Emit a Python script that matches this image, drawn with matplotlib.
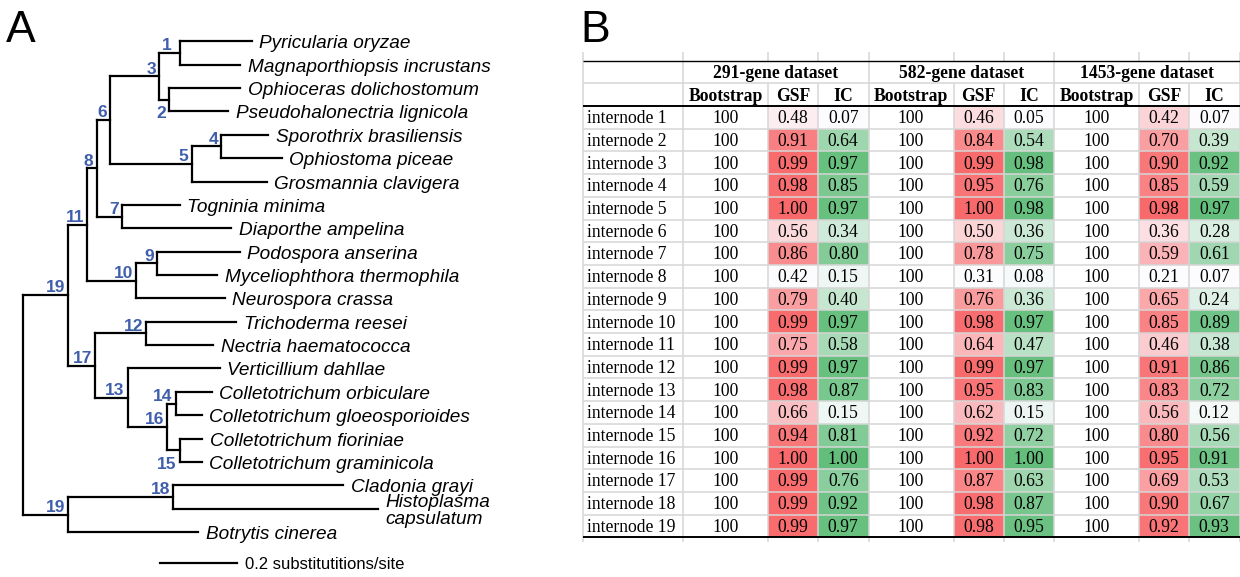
import matplotlib
matplotlib.use("Agg")
import matplotlib.pyplot as plt
from matplotlib.patches import Rectangle
import numpy as np

plt.rcParams['font.family'] = ['Liberation Sans', 'DejaVu Sans']

# ---------------- Panel A: tree (branch lengths, substitutions/site) ----------------
tip_names = ["Pyricularia oryzae", "Magnaporthiopsis incrustans", "Ophioceras dolichostomum",
             "Pseudohalonectria lignicola", "Sporothrix brasiliensis", "Ophiostoma piceae",
             "Grosmannia clavigera", "Togninia minima", "Diaporthe ampelina", "Podospora anserina",
             "Myceliophthora thermophila", "Neurospora crassa", "Trichoderma reesei",
             "Nectria haematococca", "Verticillium dahllae", "Colletotrichum orbiculare",
             "Colletotrichum gloeosporioides", "Colletotrichum fioriniae",
             "Colletotrichum graminicola", "Cladonia grayi", "Histoplasma\ncapsulatum",
             "Botrytis cinerea"]
tip_parents = ["1", "1", "2", "2", "4", "4", "5", "7", "7", "9", "9", "10", "12", "12", "13",
               "14", "14", "15", "15", "18", "18", "19b"]
tip_lengths = [0.187, 0.157, 0.185, 0.154, 0.122, 0.157, 0.196, 0.152, 0.287, 0.216, 0.157,
               0.231, 0.235, 0.174, 0.241, 0.094, 0.068, 0.059, 0.057, 0.444, 0.534, 0.340]

node_ids = ["1", "2", "3", "4", "5", "6", "7", "8", "9", "10", "11", "12", "13", "14", "15",
            "16", "17", "18", "19a", "19b", "root"]
node_labels = ["1", "2", "3", "4", "5", "6", "7", "8", "9", "10", "11", "12", "13", "14", "15",
               "16", "17", "18", "19", "19", ""]
node_parents = ["3", "3", "6", "5", "6", "8", "8", "11", "10", "11", "19a", "17", "17", "16",
                "16", "13", "19a", "19b", "root", "root", None]
node_lengths = [0.055, 0.027, 0.128, 0.078, 0.213, 0.035, 0.065, 0.025, 0.054, 0.129, 0.050,
                0.133, 0.084, 0.022, 0.033, 0.103, 0.072, 0.275, 0.118, 0.118, 0.0]
scale_bar_length = 0.2
scale_bar_label = "0.2 substitutitions/site"

# ---------------- Panel B: table ----------------
datasets = ["291-gene dataset", "582-gene dataset", "1453-gene dataset"]
metrics = ["Bootstrap", "GSF", "IC"]
internodes = ["internode 1", "internode 2", "internode 3", "internode 4", "internode 5",
              "internode 6", "internode 7", "internode 8", "internode 9", "internode 10",
              "internode 11", "internode 12", "internode 13", "internode 14", "internode 15",
              "internode 16", "internode 17", "internode 18", "internode 19"]
bootstrap_291 = [100, 100, 100, 100, 100, 100, 100, 100, 100, 100, 100, 100, 100, 100, 100, 100, 100, 100, 100]
gsf_291 = [0.48, 0.91, 0.99, 0.98, 1.00, 0.56, 0.86, 0.42, 0.79, 0.99, 0.75, 0.99, 0.98, 0.66, 0.94, 1.00, 0.99, 0.99, 0.99]
ic_291 = [0.07, 0.64, 0.97, 0.85, 0.97, 0.34, 0.80, 0.15, 0.40, 0.97, 0.58, 0.97, 0.87, 0.15, 0.81, 1.00, 0.76, 0.92, 0.97]
bootstrap_582 = [100, 100, 100, 100, 100, 100, 100, 100, 100, 100, 100, 100, 100, 100, 100, 100, 100, 100, 100]
gsf_582 = [0.46, 0.84, 0.99, 0.95, 1.00, 0.50, 0.78, 0.31, 0.76, 0.98, 0.64, 0.99, 0.95, 0.62, 0.92, 1.00, 0.87, 0.98, 0.98]
ic_582 = [0.05, 0.54, 0.98, 0.76, 0.98, 0.36, 0.75, 0.08, 0.36, 0.97, 0.47, 0.97, 0.83, 0.15, 0.72, 1.00, 0.63, 0.87, 0.95]
bootstrap_1453 = [100, 100, 100, 100, 100, 100, 100, 100, 100, 100, 100, 100, 100, 100, 100, 100, 100, 100, 100]
gsf_1453 = [0.42, 0.70, 0.90, 0.85, 0.98, 0.36, 0.59, 0.21, 0.65, 0.85, 0.46, 0.91, 0.83, 0.56, 0.80, 0.95, 0.69, 0.90, 0.92]
ic_1453 = [0.07, 0.39, 0.92, 0.59, 0.97, 0.28, 0.61, 0.07, 0.24, 0.89, 0.38, 0.86, 0.72, 0.12, 0.56, 0.91, 0.53, 0.67, 0.93]

# ---------------- figure ----------------
W, H, DPI = 1240, 577, 100
PX = 72.0 / DPI  # points per pixel
fig = plt.figure(figsize=(W / DPI, H / DPI), dpi=DPI)
fig.patch.set_facecolor('white')

# ---- tree layout ----
X0_PX, UNIT_PX = 22.7, 383.0          # root position and px per substitution/site
Y0_PX, TIP_PX = 41.3, 23.37           # first tip and tip spacing
axA = fig.add_axes([0, 0, 560 / W, 1])
axA.set_xlim(-X0_PX / UNIT_PX, (560 - X0_PX) / UNIT_PX)
axA.set_ylim((H - Y0_PX) / TIP_PX, -Y0_PX / TIP_PX)
axA.axis('off')

parent_of = dict(zip(node_ids, node_parents))
length_of = dict(zip(node_ids, node_lengths))
label_of = dict(zip(node_ids, node_labels))
children = {n: [] for n in node_ids}
for i, p in enumerate(tip_parents):
    children[p].append(('tip', i))
for n, p in zip(node_ids, node_parents):
    if p is not None:
        children[p].append(('node', n))

def node_x(n):
    p = parent_of[n]
    return 0.0 if p is None else node_x(p) + length_of[n]

def child_y(c):
    return float(c[1]) if c[0] == 'tip' else node_y(c[1])

def node_y(n):
    ys = [child_y(c) for c in children[n]]
    return (min(ys) + max(ys)) / 2.0

LW = 1.6
line_kw = dict(color='black', lw=LW, solid_capstyle='projecting')
blue = '#3F5EAB'
below = {"2", "15"}
label_dx = {"1": -8.0}

for n in node_ids:
    x, y = node_x(n), node_y(n)
    ys = [child_y(c) for c in children[n]]
    axA.plot([x, x], [min(ys), max(ys)], **line_kw)
    p = parent_of[n]
    if p is not None:
        axA.plot([node_x(p), x], [y, y], **line_kw)
        dx = label_dx.get(n, -3.0)
        off = (dx * PX, -18.5 * PX) if n in below else (dx * PX, 2.8 * PX)
        axA.annotate(label_of[n], (x, y), xytext=off, textcoords='offset points',
                     ha='right', va='baseline', color=blue, fontweight='bold',
                     fontsize=12.5)

for i, (name, p, L) in enumerate(zip(tip_names, tip_parents, tip_lengths)):
    x0 = node_x(p)
    x1 = x0 + L
    axA.plot([x0, x1], [i, i], **line_kw)
    lines = name.split('\n')
    nl = len(lines)
    for k, ln in enumerate(lines):
        dy = (k - (nl - 1) / 2.0) * 17.3
        axA.annotate(ln, (x1, i), xytext=(7.5 * PX, -(7.0 + dy) * PX),
                     textcoords='offset points', ha='left', va='baseline',
                     fontstyle='italic', fontsize=13.7)

# scale bar
sb_x0 = (160 - X0_PX) / UNIT_PX
sb_y = (563.3 - Y0_PX) / TIP_PX
axA.plot([sb_x0, sb_x0 + scale_bar_length], [sb_y, sb_y], color='black', lw=LW)
axA.annotate(scale_bar_label, (sb_x0 + scale_bar_length, sb_y), xytext=(8 * PX, -6 * PX),
             textcoords='offset points', ha='left', va='baseline', fontsize=12)

fig.text(6 / W, 1 - 42.5 / H, "A", fontsize=32, va='baseline', ha='left')
fig.text(580 / W, 1 - 42.5 / H, "B", fontsize=32, va='baseline', ha='left')

# ---- table ----
T_LEFT, T_TOP, ROW_PX = 583.0, 106.0, 22.7
col_w = [100, 85, 50, 50.5, 85, 50, 50.5, 85, 50, 50.5]
col_edges = np.concatenate([[0], np.cumsum(col_w)])
T_W = col_edges[-1]
axB = fig.add_axes([560 / W, 0, 680 / W, 1])
axB.set_xlim(560 - T_LEFT, 1240 - T_LEFT)
axB.set_ylim((H - T_TOP) / ROW_PX, -T_TOP / ROW_PX)
axB.axis('off')

table_cols = [bootstrap_291, gsf_291, ic_291,
              bootstrap_582, gsf_582, ic_582,
              bootstrap_1453, gsf_1453, ic_1453]
kinds = ['b', 'g', 'i'] * 3
white = np.array([252, 252, 255]) / 255.0
red = np.array([248, 105, 107]) / 255.0
green = np.array([99, 190, 123]) / 255.0
serif = ['Liberation Serif', 'DejaVu Serif']
FS = 12.7
BASE = 0.26  # baseline offset below row centre (rows)

nrows = len(internodes)
for c, (vals, kind) in enumerate(zip(table_cols, kinds)):
    xl, xr = col_edges[c + 1], col_edges[c + 2]
    xc = (xl + xr) / 2
    v = np.array(vals, dtype=float)
    for r, val in enumerate(vals):
        if kind != 'b':
            t = (val - v.min()) / (v.max() - v.min())
            tgt = red if kind == 'g' else green
            col = white + (tgt - white) * t
            axB.add_patch(Rectangle((xl, r), xr - xl, 1, facecolor=col, lw=0, zorder=1))
            txt = f"{val:.2f}"
        else:
            txt = f"{val:d}"
        axB.text(xc, r + 0.5 + BASE, txt, ha='center', va='baseline', family=serif,
                 fontsize=FS, zorder=4)

for r, name in enumerate(internodes):
    axB.text(4, r + 0.5 + BASE, name, ha='left', va='baseline', family=serif,
             fontsize=FS, zorder=4)

# headers
for g, ds in enumerate(datasets):
    xl, xr = col_edges[1 + 3 * g], col_edges[4 + 3 * g]
    axB.text((xl + xr) / 2, -1.5 + BASE, ds, ha='center', va='baseline', family=serif,
             fontsize=FS, fontweight='bold', zorder=4)
    for k, m in enumerate(metrics):
        a, b = col_edges[1 + 3 * g + k], col_edges[2 + 3 * g + k]
        axB.text((a + b) / 2, -0.5 + BASE, m, ha='center', va='baseline', family=serif,
                 fontsize=FS, fontweight='bold', zorder=4)

# grid lines
grey = '#D6D6D6'
gkw = dict(color=grey, lw=1.1, zorder=2, solid_capstyle='butt')
for r in [-1] + list(range(1, nrows)):
    axB.plot([0, T_W], [r, r], **gkw)
y_top_stub = (52 - T_TOP) / ROW_PX
y_bot_stub = (542 - T_TOP) / ROW_PX
group_edges = {0, 1, 4, 7, 10}
for i, xe in enumerate(col_edges):
    if i in group_edges:
        axB.plot([xe, xe], [y_top_stub, y_bot_stub], **gkw)
    else:
        axB.plot([xe, xe], [y_top_stub, -2], **gkw)
        axB.plot([xe, xe], [-1, y_bot_stub], **gkw)

bkw = dict(color='black', zorder=3, solid_capstyle='butt')
axB.plot([0, T_W], [-2, -2], lw=1.0, **bkw)
axB.plot([0, T_W], [0, 0], lw=1.4, **bkw)
axB.plot([0, T_W], [nrows, nrows], lw=1.4, **bkw)

fig.savefig('out.png', dpi=DPI, facecolor='white')
